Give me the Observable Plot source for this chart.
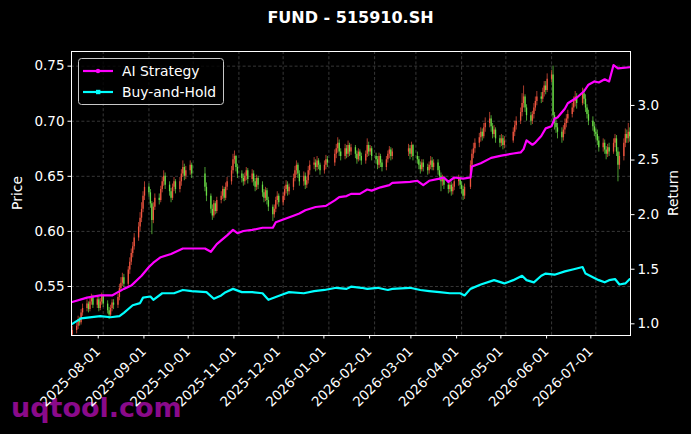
<!DOCTYPE html>
<html>
<head>
<meta charset="utf-8">
<script src="https://cdn.jsdelivr.net/npm/d3@7"></script>
<script src="https://cdn.jsdelivr.net/npm/@observablehq/plot@0.6"></script>
<style>
  html, body { margin:0; padding:0; background:#000; }
  #wrap { position:relative; width:691px; height:434px; overflow:hidden; background:#000; }
  #wrap > * { position:absolute; left:0; top:0; }
  text { font-family: "DejaVu Sans", sans-serif; }
</style>
</head>
<body>
<div id="wrap">
  <svg id="wm" width="691" height="434"></svg>
  <div id="base"></div>
  <div id="over"></div>
  <svg id="deco" width="691" height="434"></svg>
</div>
<script>
// ---------------- DATA ----------------
const title = "FUND - 515910.SH";
const seriesNames = ["AI Strategy", "Buy-and-Hold"];
const monthTicks = ["2025-08-01","2025-09-01","2025-10-01","2025-11-01","2025-12-01","2026-01-01",
  "2026-02-01","2026-03-01","2026-04-01","2026-05-01","2026-06-01","2026-07-01"];
const priceTicks = [0.55, 0.60, 0.65, 0.70, 0.75];
const returnTicks = [1.0, 1.5, 2.0, 2.5, 3.0];
const firstDay = "2025-07-11", lastDay = "2026-07-24";
const holidays = ["2025-10-01","2025-10-02","2025-10-03","2025-10-06","2025-10-07","2025-10-08",
  "2026-01-01","2026-01-02","2026-02-16","2026-02-17","2026-02-18","2026-02-19","2026-02-20","2026-02-23",
  "2026-04-06","2026-05-01","2026-05-04","2026-05-05","2026-06-19"];
const firstOpen = 0.506;
const closes = [
 .510,
 .514,.520,.517,.526,.530, .534,.529,.536,.540,.533, .538,.530,.536,.541,.534, .528,.524,.530,.535,.533,
 .540,.548,.553,.558,.552, .565,.572,.580,.586,.594, .604,.612,.620,.632,.640, .635,.625,.610,.622,.630,
 .628,.638,.645,.650,.642, .636,.630,.640,.645,.638, .645,.652,.658,.650,.655, .660,.652, .640,.632,
 .620,.614,.625,.618,.628, .632,.638,.630,.640,.645, .655,.665,.668,.658,.652, .648,.645,.650,.655,.647,
 .652,.645,.640,.648,.642, .635,.630,.637,.628,.622, .615,.620,.628,.632,.626, .632,.638,.642,.636,.640,
 .648,.655,.660,.652,.645, .650,.642,.646,.655,.660, .662,.658,.664,.660,.655, .660,.665,.662,
 .670,.675,.680,.672,.668, .675,.670,.678,.672,.676, .670,.665,.672,.668,.664, .670,.678,.672,.675,.668,
 .665,.660,.668,.662,.658, .665,.670,.674,.668,.672, .675,.670,.678,.668,
 .665,.660,.656,.662,.658, .655,.660,.664,.658,.662, .655,.650,.645,.648,.642, .638,.642,.636,.640,.645,
 .648,.642,.638,.632,.640, .660,.670,.675,.680, .685,.690,.686,.694,.698, .702,.695,.688,.692,.684,
 .680,.684,.678,.682, .690,.696,.700, .708,.716,.722,.712,.705, .700,.706,.712,.718,.722,
 .720,.726,.732,.728,.738, .742,.705,.698,.694,.690, .685,.692,.698,.702,.706, .712,.718,.722,.716,
 .725,.720,.712,.706,.700, .695,.690,.688,.682,.676, .680,.674,.670,.676,.672, .680,.684,.672,.660,.668,
 .680,.688,.684,.690,.686
];
const highs = [
 .514,
 .517,.523,.522,.529,.534, .538,.536,.539,.543,.542, .541,.540,.539,.544,.543, .537,.531,.533,.538,.538,
 .543,.552,.558,.562,.561, .568,.576,.584,.590,.598, .608,.617,.626,.636,.645, .643,.638,.627,.626,.634,
 .634,.641,.649,.655,.653, .645,.639,.643,.649,.647, .649,.656,.664,.661,.659, .664,.662, .658,.644,
 .634,.624,.628,.627,.631, .636,.641,.640,.644,.649, .659,.670,.673,.669,.661, .655,.652,.653,.658,.657,
 .656,.655,.648,.651,.650, .645,.638,.640,.639,.631, .624,.624,.631,.636,.634, .635,.641,.646,.645,.643,
 .652,.659,.664,.662,.655, .654,.653,.649,.659,.664, .667,.665,.668,.666,.662, .664,.669,.668,
 .674,.679,.685,.683,.675, .679,.678,.682,.680,.679, .678,.673,.675,.674,.671, .673,.684,.681,.678,.677,
 .671,.668,.671,.670,.665, .668,.673,.677,.676,.675, .679,.678,.681,.679,
 .672,.668,.663,.665,.665, .661,.663,.668,.667,.665, .665,.659,.653,.651,.650, .645,.646,.645,.643,.649,
 .651,.650,.645,.641,.643, .664,.674,.680,.684, .689,.694,.693,.698,.703, .708,.705,.698,.696,.694,
 .687,.688,.687,.686, .694,.700,.704, .712,.725,.732,.724,.715, .708,.709,.716,.722,.727,
 .726,.730,.736,.736,.743, .746,.750,.708,.702,.698, .694,.696,.702,.706,.710, .716,.722,.727,.725,
 .730,.729,.724,.715,.710, .704,.699,.694,.692,.686, .684,.683,.677,.679,.680, .684,.688,.687,.676,.672,
 .684,.693,.692,.698,.694
];
const lows = [
 .503,
 .507,.511,.514,.515,.523, .527,.526,.527,.533,.530, .530,.527,.528,.533,.531, .525,.520,.522,.527,.529,
 .530,.537,.545,.550,.549, .550,.561,.569,.576,.583, .591,.600,.608,.617,.628, .631,.621,.597,.607,.619,
 .624,.626,.635,.641,.638, .632,.626,.628,.636,.634, .635,.641,.649,.646,.647, .651,.648, .636,.627,
 .616,.610,.612,.615,.616, .625,.629,.627,.628,.637, .642,.652,.661,.654,.648, .644,.641,.642,.646,.643,
 .644,.641,.636,.637,.638, .631,.626,.627,.624,.618, .609,.612,.617,.624,.622, .623,.628,.634,.632,.633,
 .637,.645,.651,.648,.641, .641,.638,.639,.643,.651, .656,.654,.655,.656,.651, .652,.656,.658,
 .659,.666,.671,.668,.664, .665,.666,.667,.668,.669, .666,.661,.663,.664,.660, .661,.667,.668,.669,.664,
 .661,.656,.657,.658,.654, .655,.662,.666,.664,.665, .668,.665,.667,.664,
 .661,.656,.652,.654,.654, .651,.652,.656,.655,.655, .651,.646,.636,.641,.638, .634,.635,.632,.633,.637,
 .641,.638,.634,.628,.629, .638,.657,.666,.671, .676,.681,.682,.684,.690, .694,.690,.684,.685,.680,
 .676,.677,.674,.675, .680,.686,.692, .697,.704,.712,.708,.700, .696,.697,.702,.709,.714,
 .716,.717,.722,.724,.726, .735,.701,.692,.689,.684, .680,.682,.688,.694,.698, .703,.708,.713,.711,
 .714,.715,.708,.702,.696, .691,.686,.683,.678,.672, .672,.670,.665,.667,.668, .670,.676,.668,.645,.656,
 .664,.676,.680,.680,.681
];
const aiDates = ["2025-07-11","2025-07-21","2025-07-30","2025-08-07","2025-08-11","2025-08-15","2025-08-20",
 "2025-08-27","2025-09-01","2025-09-04","2025-09-09","2025-09-16","2025-09-24","2025-09-30","2025-10-09",
 "2025-10-13","2025-10-17","2025-10-24","2025-10-28","2025-10-31","2025-11-04","2025-11-10","2025-11-17",
 "2025-11-24","2025-11-26","2025-12-02","2025-12-08","2025-12-12","2025-12-16","2025-12-23","2025-12-30",
 "2026-01-05","2026-01-08","2026-01-13","2026-01-16","2026-01-22","2026-01-27","2026-01-30","2026-02-05",
 "2026-02-11","2026-02-13","2026-02-25","2026-03-02","2026-03-06","2026-03-10","2026-03-17","2026-03-20",
 "2026-03-23","2026-03-27","2026-04-02","2026-04-07","2026-04-08","2026-04-14","2026-04-21","2026-04-28",
 "2026-05-06","2026-05-11","2026-05-13","2026-05-15","2026-05-19","2026-05-21","2026-05-25","2026-05-28",
 "2026-06-01","2026-06-03","2026-06-05","2026-06-10","2026-06-12","2026-06-18","2026-06-23","2026-06-26",
 "2026-06-30","2026-07-03","2026-07-07","2026-07-10","2026-07-13","2026-07-16","2026-07-24"];
const aiReturn = [1.20,1.24,1.26,1.26,1.29,1.32,1.35,
 1.44,1.52,1.56,1.61,1.64,1.69,1.69,1.69,
 1.66,1.73,1.81,1.86,1.83,1.85,1.86,1.88,
 1.88,1.93,1.96,1.99,2.01,2.04,2.07,2.08,
 2.13,2.16,2.17,2.19,2.19,2.23,2.22,2.25,
 2.27,2.29,2.30,2.31,2.27,2.31,2.33,2.34,
 2.30,2.34,2.33,2.34,2.44,2.47,2.52,2.54,
 2.56,2.57,2.60,2.68,2.64,2.66,2.72,2.79,
 2.81,2.88,2.89,2.97,3.02,3.07,3.13,3.19,
 3.22,3.21,3.24,3.22,3.37,3.34,3.35];
const bhDates = ["2025-07-11","2025-07-17","2025-07-30","2025-08-06","2025-08-12","2025-08-15","2025-08-21",
 "2025-08-26","2025-08-28","2025-09-02","2025-09-04","2025-09-10","2025-09-18","2025-09-24","2025-09-30",
 "2025-10-10","2025-10-15","2025-10-20","2025-10-23","2025-10-28","2025-11-03","2025-11-10","2025-11-17",
 "2025-11-21","2025-12-01","2025-12-05","2025-12-15","2025-12-22","2025-12-29","2026-01-06","2026-01-13",
 "2026-01-16","2026-01-23","2026-01-27","2026-02-03","2026-02-10","2026-02-13","2026-02-25","2026-03-04",
 "2026-03-10","2026-03-17","2026-03-24","2026-03-31","2026-04-03","2026-04-07","2026-04-14","2026-04-23",
 "2026-04-30","2026-05-06","2026-05-12","2026-05-15","2026-05-20","2026-05-25","2026-05-28","2026-06-03",
 "2026-06-10","2026-06-16","2026-06-22","2026-06-24","2026-06-30","2026-07-03","2026-07-07","2026-07-10",
 "2026-07-14","2026-07-17","2026-07-21","2026-07-24"];
const bhReturn = [1.00,1.05,1.07,1.06,1.07,1.10,1.17,
 1.19,1.24,1.25,1.22,1.28,1.28,1.31,1.30,
 1.29,1.23,1.26,1.29,1.32,1.29,1.29,1.28,
 1.22,1.27,1.29,1.28,1.30,1.31,1.33,1.32,
 1.34,1.33,1.32,1.33,1.31,1.32,1.33,1.31,
 1.30,1.29,1.28,1.28,1.26,1.32,1.36,1.40,
 1.37,1.40,1.44,1.40,1.38,1.44,1.46,1.45,
 1.48,1.50,1.52,1.46,1.42,1.40,1.38,1.40,
 1.41,1.36,1.37,1.41];

// ---------------- BUILD ----------------
const parse = d3.utcParse("%Y-%m-%d");
const holidaySet = new Set(holidays);
const tradingDays = [];
for (let t = parse(firstDay); t <= parse(lastDay); t = d3.utcDay.offset(t, 1)) {
  const wd = t.getUTCDay();
  if (wd === 0 || wd === 6) continue;
  if (holidaySet.has(d3.utcFormat("%Y-%m-%d")(t))) continue;
  tradingDays.push(t);
}
const n = Math.min(tradingDays.length, closes.length);
const candles = [];
for (let i = 0; i < n; i++) {
  const open = i === 0 ? firstOpen : closes[i - 1];
  const close = closes[i];
  candles.push({date: tradingDays[i], open, close,
    high: Math.max(highs[i], open, close), low: Math.min(lows[i], open, close)});
}
const ai = aiDates.map((d, i) => ({date: parse(d), value: aiReturn[i]}));
const bh = bhDates.map((d, i) => ({date: parse(d), value: bhReturn[i]}));
const ticksX = monthTicks.map(parse);
const xDomain = [d3.utcHour.offset(parse(firstDay), -12), d3.utcHour.offset(parse(lastDay), 12)];

const UP = "#f0553f", DOWN = "#6ade46";
const GRID = {stroke: "#5c5c5c", strokeWidth: 0.6, strokeOpacity: 1, strokeDasharray: "3,2.2"};
const common = {
  width: 691, height: 434, marginLeft: 71, marginRight: 61, marginTop: 51, marginBottom: 99,
  style: {background: "transparent", color: "white", fontFamily: "DejaVu Sans, sans-serif", fontSize: "13.5px", overflow: "visible"}
};

const base = Plot.plot({
  ...common,
  x: {type: "utc", domain: xDomain},
  y: {domain: [0.5055, 0.7633]},
  marks: [
    Plot.gridX(ticksX, GRID),
    Plot.gridY(priceTicks, GRID),
    Plot.ruleX(candles, {x: "date", y1: "low", y2: "high", stroke: d => d.close >= d.open ? UP : DOWN, strokeWidth: 0.7, clip: true}),
    Plot.ruleX(candles, {x: "date", y1: "open", y2: "close", stroke: d => d.close >= d.open ? UP : DOWN, strokeWidth: 1.3, clip: true}),
    Plot.axisX(ticksX, {tickFormat: d3.utcFormat("%Y-%m-%d"), tickRotate: -45, tickSize: 3.5, tickPadding: 10, dx: -5, label: null}),
    Plot.axisY(priceTicks, {tickFormat: d3.format(".2f"), tickSize: 3.5, tickPadding: 3.5, label: null})
  ]
});
document.getElementById("base").appendChild(base);

const over = Plot.plot({
  ...common,
  x: {type: "utc", domain: xDomain, axis: null},
  y: {domain: [0.893, 3.494], axis: null},
  marks: [
    Plot.line(bh, {x: "date", y: "value", stroke: "#00ffff", strokeWidth: 2.2}),
    Plot.line(ai, {x: "date", y: "value", stroke: "#ff00ff", strokeWidth: 2.2}),
    Plot.axisY(returnTicks, {anchor: "right", tickFormat: d3.format(".1f"), tickSize: 3.5, tickPadding: 3.5, label: null}),
    Plot.frame({stroke: "white", strokeWidth: 1})
  ]
});
document.getElementById("over").appendChild(over);

// watermark (underneath)
const wm = d3.select("#wm");
wm.append("text").attr("x", 11).attr("y", 417).attr("fill", "#8a0a8a").attr("font-size", 27)
  .attr("font-weight", "bold").text("uqtool.com");

// title, axis labels, legend
const deco = d3.select("#deco");
deco.append("text").attr("x", 350.5).attr("y", 23).attr("text-anchor", "middle").attr("fill", "white")
  .attr("font-size", 16).attr("font-weight", "bold").text(title);
deco.append("text").attr("transform", "translate(22,193) rotate(-90)").attr("text-anchor", "middle")
  .attr("fill", "white").attr("font-size", 13.9).text("Price");
deco.append("text").attr("transform", "translate(678,193) rotate(-90)").attr("text-anchor", "middle")
  .attr("fill", "white").attr("font-size", 13.9).text("Return");
const lg = deco.append("g").attr("transform", "translate(78,58)");
lg.append("rect").attr("x", 0.5).attr("y", 0.5).attr("width", 145).attr("height", 46).attr("rx", 3)
  .attr("fill", "rgba(0,0,0,0.8)").attr("stroke", "#c8c8c8").attr("stroke-width", 1);
const legendColors = ["#ff00ff", "#00ffff"];
seriesNames.forEach((name, i) => {
  const y = 13 + i * 21;
  lg.append("line").attr("x1", 5).attr("x2", 35).attr("y1", y).attr("y2", y)
    .attr("stroke", legendColors[i]).attr("stroke-width", 2.2);
  if (i === 0) lg.append("circle").attr("cx", 20).attr("cy", y).attr("r", 2.2).attr("fill", legendColors[i]);
  else lg.append("rect").attr("x", 18).attr("y", y - 2.2).attr("width", 4.4).attr("height", 4.4).attr("fill", legendColors[i]);
  lg.append("text").attr("x", 44).attr("y", y + 5).attr("fill", "white").attr("font-size", 13.9).text(name);
});
</script>
</body>
</html>
